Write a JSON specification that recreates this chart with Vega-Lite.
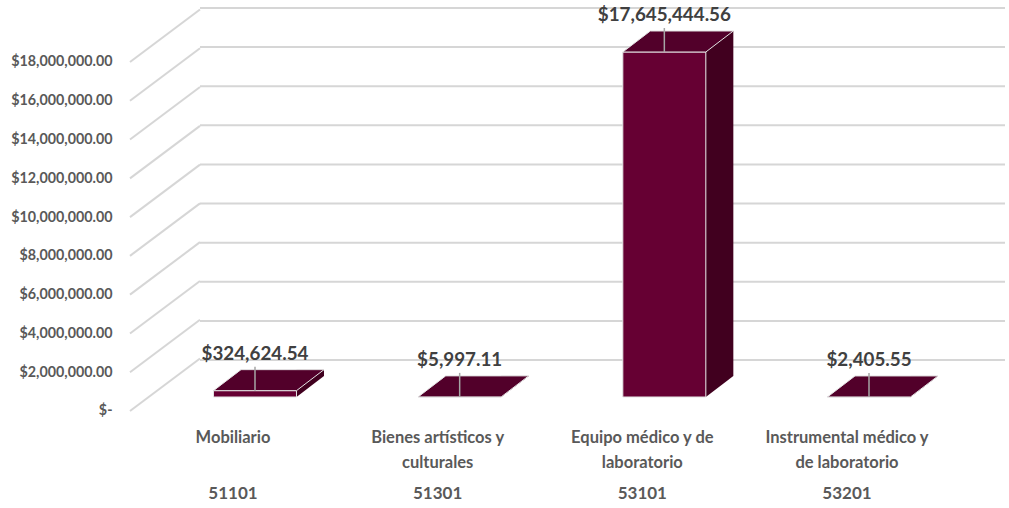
{
  "$schema": "https://vega.github.io/schema/vega-lite/v6.json",
  "width": 875,
  "height": 404,
  "autosize": {"type": "none"},
  "padding": {"left": 130, "top": 8, "right": 4, "bottom": 96},
  "background": "white",
  "config": {
    "view": {"stroke": null},
    "axis": {"grid": false, "domain": false, "ticks": false, "tickSize": 0}
  },
  "datasets": {
    "partidas": [
      {"nombre": "Mobiliario", "codigo": "51101", "monto": 324624.54},
      {"nombre": "Bienes artísticos y\nculturales", "codigo": "51301", "monto": 5997.11},
      {"nombre": "Equipo médico y de\nlaboratorio", "codigo": "53101", "monto": 17645444.56},
      {"nombre": "Instrumental médico y\nde laboratorio", "codigo": "53201", "monto": 2405.55}
    ],
    "rejilla": [
      {"v": 0}, {"v": 2000000}, {"v": 4000000}, {"v": 6000000}, {"v": 8000000},
      {"v": 10000000}, {"v": 12000000}, {"v": 14000000}, {"v": 16000000}, {"v": 18000000}
    ]
  },
  "layer": [
    {
      "data": {"name": "rejilla"},
      "mark": {"type": "rule", "stroke": "#d6d6d6", "strokeWidth": 2},
      "encoding": {
        "x": {"datum": 0.08, "type": "quantitative", "scale": {"domain": [0, 1], "nice": false, "zero": false}, "axis": null},
        "x2": {"datum": 1},
        "y": {"field": "v", "type": "quantitative", "scale": {"domain": [-2659100, 18000000], "nice": false}, "axis": null}
      }
    },
    {
      "data": {"name": "rejilla"},
      "mark": {"type": "point", "shape": "M0,0L70,-52.5", "size": 4, "filled": false, "stroke": "#d6d6d6", "strokeWidth": 2, "opacity": 1},
      "encoding": {
        "x": {"datum": 0, "type": "quantitative", "scale": {"domain": [0, 1], "nice": false, "zero": false}, "axis": null},
        "y": {
          "field": "v", "type": "quantitative",
          "scale": {"domain": [-51600, 20785000], "nice": false},
          "axis": {
            "orient": "left", "title": null,
            "values": [0, 2000000, 4000000, 6000000, 8000000, 10000000, 12000000, 14000000, 16000000, 18000000],
            "labelExpr": "datum.value == 0 ? '$-\u00a0\u00a0' : format(datum.value, '$,.2f')",
            "labelPadding": 18, "labelFont": "Lato", "labelFontWeight": "bold", "labelFontSize": 14.3, "labelColor": "#595959"
          }
        }
      }
    },
    {
      "data": {"name": "partidas"},
      "encoding": {
        "x": {
          "field": "nombre", "type": "nominal", "sort": null,
          "scale": {"type": "band", "range": [83.5, 780.5], "paddingInner": 0.5945, "paddingOuter": 0},
          "axis": {
            "orient": "bottom", "title": null, "labelAngle": 0,
            "labelExpr": "split(datum.label, '\\n')",
            "labelPadding": 17, "labelOffset": -22, "labelFont": "Lato", "labelFontWeight": "bold",
            "labelFontSize": 16.5, "labelColor": "#595959", "labelLineHeight": 25, "labelBaseline": "top", "labelLimit": 300
          }
        }
      },
      "layer": [
        {
          "mark": {"type": "bar", "width": 27.5, "xOffset": 55.25, "yOffset": -21, "fill": "#41001f"},
          "encoding": {"y": {"field": "monto", "type": "quantitative", "scale": {"domain": [-767200, 19895700], "nice": false}, "axis": null}}
        },
        {
          "mark": {"type": "point", "shape": "M41.5,0L69,-21L41.5,-21Z", "size": 4, "filled": true, "fill": "#41001f", "strokeWidth": 0, "opacity": 1},
          "encoding": {"y": {"datum": 0, "type": "quantitative"}}
        },
        {
          "mark": {"type": "bar", "fill": "#660033", "stroke": "#e3e3e3", "strokeWidth": 1},
          "encoding": {"y": {"field": "monto", "type": "quantitative"}}
        },
        {
          "mark": {"type": "point", "shape": "M-41.5,0L41.5,0L69,-21L-14,-21Z", "size": 4, "filled": true, "fill": "#52002a", "stroke": "#e3e3e3", "strokeWidth": 1, "opacity": 1},
          "encoding": {"y": {"field": "monto", "type": "quantitative"}}
        },
        {
          "mark": {"type": "rule", "stroke": "#a6a6a6", "strokeWidth": 1.5, "y2Offset": -24},
          "encoding": {"y": {"field": "monto", "type": "quantitative"}, "y2": {"field": "monto"}}
        }
      ]
    },
    {
      "data": {"name": "partidas"},
      "mark": {"type": "text", "font": "Lato", "fontWeight": "bold", "fontSize": 18.8, "fill": "#404040", "baseline": "middle", "dy": -37},
      "encoding": {
        "x": {
          "field": "codigo", "type": "nominal", "sort": null,
          "scale": {"type": "band", "range": [83.5, 780.5], "paddingInner": 0.5945, "paddingOuter": 0},
          "axis": {
            "orient": "bottom", "title": null, "labelAngle": 0, "labelPadding": 73, "labelOffset": -22,
            "labelFont": "Lato", "labelFontWeight": "bold", "labelFontSize": 17, "labelColor": "#595959", "labelBaseline": "top"
          }
        },
        "y": {"field": "monto", "type": "quantitative", "scale": {"domain": [-767200, 19895700], "nice": false}, "axis": null},
        "text": {"field": "monto", "type": "quantitative", "format": "$,.2f"}
      }
    }
  ],
  "resolve": {
    "scale": {"x": "independent", "y": "independent"},
    "axis": {"x": "independent", "y": "independent"}
  }
}
